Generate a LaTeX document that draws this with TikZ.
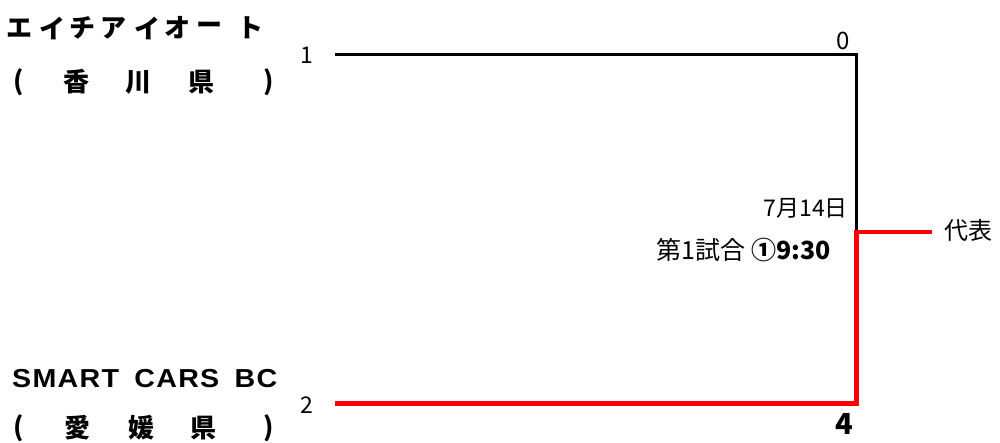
\documentclass[tikz,border=0pt]{standalone}
\usepackage{fontspec}
\newfontfamily\cjk{Noto Sans CJK JP}
\newfontfamily\cjkb[FakeBold=0.8]{Noto Sans CJK JP Bold}
\newfontfamily\lat[FakeStretch=1.1,LetterSpace=5]{Liberation Sans}
\begin{document}
\begin{tikzpicture}[x=1pt,y=-1pt,
  team/.style={font=\cjk\bfseries\fontsize{26}{26}\selectfont, inner sep=0pt, anchor=center},
  word/.style={font=\lat\bfseries\fontsize{26}{26}\selectfont, inner sep=0pt, anchor=west},
  seed/.style={font=\cjk\fontsize{23}{23}\selectfont, inner sep=0pt},
  score/.style={font=\cjk\fontsize{24}{24}\selectfont, inner sep=0pt},
  blackline/.style={line width=3pt, black},
  redline/.style={line width=4.2pt, red}]
\useasboundingbox (0,0) rectangle (1000,443);
% team 1
\node[team] (k1) at (19.5,28) {エ};
\node[team] (k2) at (52,28) {イ};
\node[team] (k3) at (82,28) {チ};
\node[team] (k4) at (113.5,28) {ア};
\node[team] (k5) at (147,28) {イ};
\node[team] (k6) at (177.5,28) {オ};
\node[team] (k7) at (209,28) {ー};
\node[team] (k8) at (250.5,28) {ト};
\node[team] (q1) at (19,82) {(};
\node[team] (q2) at (76,82) {香};
\node[team] (q3) at (138,82) {川};
\node[team] (q4) at (201,82) {県};
\node[team] (q5) at (269,82) {)};
% team 2
\node[word] (t2) at (12,378.5) {\makebox[265pt][s]{SMART\hfill CARS\hfill BC}};
\node[team] (r1) at (19,428) {(};
\node[team] (r2) at (77.5,428) {愛};
\node[team] (r3) at (141.5,428) {媛};
\node[team] (r4) at (203.5,428) {県};
\node[team] (r5) at (269,428) {)};
% seeds
\node[seed] (s1) at (307,55) {1};
\node[seed] (s2) at (307,405) {2};
% scores
\node[score] (sc1) at (843,41) {0};
\node[score, font=\cjk\bfseries\fontsize{29}{29}\selectfont] (sc2) at (844,424) {4};
% game info
\node[inner sep=0pt, anchor=east, font=\cjk\fontsize{23}{23}\selectfont] (date) at (848,208) {7月14日};
\node[inner sep=0pt, anchor=east] (game) at (831,250) {{\cjk\fontsize{25}{25}\selectfont 第1試合}\hspace{6pt}{\cjk\bfseries\fontsize{25}{25}\selectfont ①9:30}};
\node[inner sep=0pt, anchor=west, font=\cjk\fontsize{24}{24}\selectfont] (win) at (944,230) {代表};
% coordinates
\coordinate (a1) at (335,54.5);
\coordinate (a2) at (856,54.5);
\coordinate (m) at (856,232);
\coordinate (b1) at (335,403.5);
\coordinate (b2) at (856.5,403.5);
\coordinate (mr) at (856.5,232);
\coordinate (w) at (932,232);
\draw[blackline] (a1) -- (a2) -- (m);
\draw[redline] (b1) -- (b2) -- (mr) -- (w);
\end{tikzpicture}
\end{document}
